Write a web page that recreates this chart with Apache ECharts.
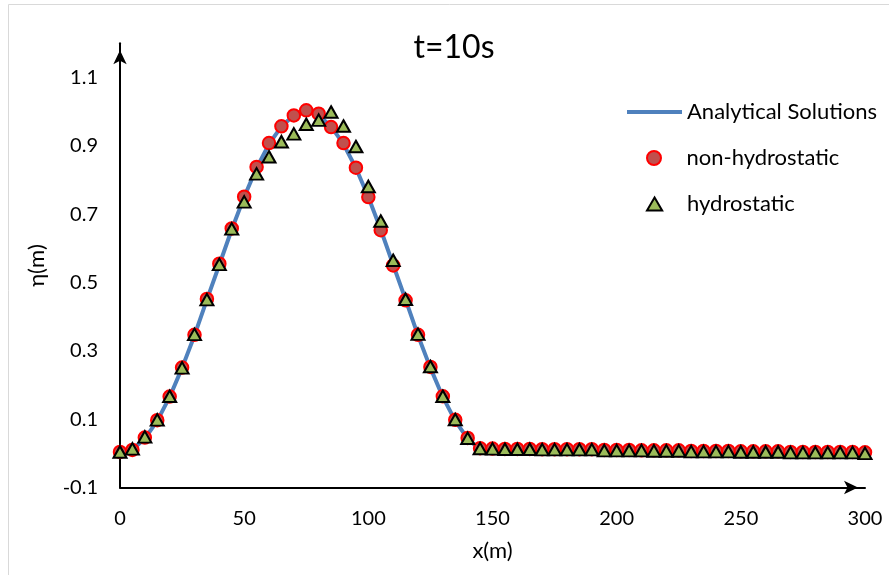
<!DOCTYPE html>
<html>
<head>
<meta charset="utf-8">
<script src="https://cdn.jsdelivr.net/npm/echarts@6/dist/echarts.min.js"></script>
<style>
html,body{margin:0;padding:0;background:#fff;}
#chart{width:889px;height:575px;}
</style>
</head>
<body>
<div id="chart"></div>
<script>
// x positions (m)
var xValues = [0,5,10,15,20,25,30,35,40,45,50,55,60,65,70,75,80,85,90,95,100,105,110,115,120,125,130,135,140,145,
  150,155,160,165,170,175,180,185,190,195,200,205,210,215,220,225,230,235,240,245,250,255,260,265,270,275,280,285,290,295,300];

// Analytical Solutions
var analytical = [0.000,0.011,0.043,0.095,0.165,0.250,0.345,0.450,0.552,0.655,0.750,0.835,0.905,0.957,0.989,1.000,0.989,0.957,0.905,0.835,
  0.750,0.655,0.552,0.450,0.345,0.250,0.165,0.095,0.043,0.011,
  0.000,0.000,0.000,0.000,0.000,0.000,0.000,0.000,0.000,0.000,0.000,0.000,0.000,0.000,0.000,0.000,0.000,0.000,0.000,0.000,
  0.000,0.000,0.000,0.000,0.000,0.000,0.000,0.000,0.000,0.000,0.000];

// non-hydrostatic
var nonHydrostatic = [0.004,0.010,0.046,0.097,0.166,0.251,0.347,0.452,0.555,0.658,0.751,0.838,0.908,0.957,0.989,1.004,0.994,0.955,0.908,0.836,
  0.750,0.653,0.550,0.448,0.347,0.253,0.167,0.098,0.045,0.015,
  0.014,0.013,0.013,0.013,0.012,0.012,0.012,0.012,0.012,0.010,0.010,0.010,0.009,0.009,0.009,0.009,0.007,0.007,0.007,0.007,
  0.006,0.006,0.006,0.006,0.004,0.004,0.004,0.004,0.004,0.004,0.003];

// hydrostatic
var hydrostatic = [0.004,0.013,0.048,0.098,0.167,0.250,0.348,0.450,0.553,0.657,0.736,0.818,0.868,0.912,0.935,0.963,0.975,0.999,0.958,0.898,
  0.781,0.680,0.565,0.451,0.349,0.254,0.167,0.099,0.044,0.014,
  0.013,0.012,0.012,0.012,0.011,0.011,0.011,0.011,0.011,0.008,0.008,0.008,0.008,0.007,0.007,0.007,0.005,0.005,0.005,0.005,
  0.004,0.004,0.004,0.004,0.002,0.002,0.002,0.002,0.002,0.002,0.000];

var xTickLabels = ['0','50','100','150','200','250','300'];
var yTickLabels = ['-0.1','0.1','0.3','0.5','0.7','0.9','1.1'];

function pairs(arr){ return xValues.map(function(x,i){ return [x, arr[i]]; }); }

var FONT = 'Lato, "Open Sans", sans-serif';
var chart = echarts.init(document.getElementById('chart'), null, {renderer:'canvas'});
var axisLineCommon = {
  show: true,
  lineStyle: {color: '#000', width: 2},
  symbol: ['none', 'arrow'],
  symbolSize: [10, 14],
  symbolOffset: [0, -7]
};
var legendText = {fontFamily: FONT, fontSize: 22, color: '#000'};
chart.setOption({
  backgroundColor: '#fff',
  animation: false,
  title: {
    text: 't=10s',
    left: 454,
    top: 32,
    padding: 0,
    textAlign: 'center',
    textStyle: {fontFamily: FONT, fontSize: 32, fontWeight: 'normal', color: '#000'}
  },
  grid: {left: 120, right: 24, top: 43.3, bottom: 87.5, containLabel: false},
  legend: [
    {
      data: [{name: 'Analytical Solutions', icon: 'rect'}], left: 627, top: 101, orient: 'vertical',
      itemWidth: 55, itemHeight: 4, padding: 0, selectedMode: false,
      textStyle: legendText
    },
    {
      data: ['non-hydrostatic'], left: 646, top: 147, orient: 'vertical',
      itemWidth: 55, itemHeight: 14, padding: 0, selectedMode: false,
      textStyle: legendText
    },
    {
      data: [{name: 'hydrostatic', icon: 'path://M7,0 L14,12 L0,12 Z'}], left: 646, top: 193, orient: 'vertical',
      itemWidth: 55, itemHeight: 13, padding: 0, selectedMode: false, symbolKeepAspect: true,
      textStyle: legendText
    }
  ],
  xAxis: {
    type: 'value', min: 0, max: 300, interval: 50,
    name: 'x(m)', nameLocation: 'middle', nameGap: 52,
    nameTextStyle: {fontFamily: FONT, fontSize: 22, color: '#000'},
    axisLine: Object.assign({onZero: false}, axisLineCommon),
    axisTick: {show: false},
    splitLine: {show: false},
    axisLabel: {
      margin: 21, fontFamily: FONT, fontSize: 20, color: '#000',
      formatter: function(v){ var s = String(Math.round(v)); return xTickLabels.indexOf(s) >= 0 ? s : ''; }
    }
  },
  yAxis: {
    type: 'value', min: -0.1, max: 1.2, interval: 0.2,
    name: 'η(m)', nameLocation: 'middle', nameGap: 72,
    nameTextStyle: {fontFamily: FONT, fontSize: 22, color: '#000'},
    axisLine: Object.assign({onZero: false}, axisLineCommon),
    axisTick: {show: false},
    splitLine: {show: false},
    axisLabel: {
      margin: 22, fontFamily: FONT, fontSize: 20, color: '#000',
      formatter: function(v){ var s = (+v).toFixed(1); return yTickLabels.indexOf(s) >= 0 ? s : ''; }
    }
  },
  series: [
    {
      name: 'Analytical Solutions', type: 'line', data: pairs(analytical),
      symbol: 'none', smooth: false, z: 2,
      lineStyle: {color: '#4F81BD', width: 4},
      itemStyle: {color: '#4F81BD'}
    },
    {
      name: 'non-hydrostatic', type: 'scatter', data: pairs(nonHydrostatic),
      symbol: 'circle', symbolSize: 12.5, z: 3,
      itemStyle: {color: '#C0504D', borderColor: '#FF0000', borderWidth: 2, opacity: 1}
    },
    {
      name: 'hydrostatic', type: 'scatter', data: pairs(hydrostatic),
      symbol: 'triangle', symbolSize: [13, 11.5], z: 4,
      itemStyle: {color: '#9BBB59', borderColor: '#000', borderWidth: 2, opacity: 1}
    }
  ],
  graphic: [
    {
      type: 'rect', silent: true, z: -1,
      shape: {x: 8.5, y: 4.5, width: 1000, height: 1000},
      style: {fill: 'none', stroke: '#D9D9D9', lineWidth: 1}
    }
  ]
});
</script>
</body>
</html>
